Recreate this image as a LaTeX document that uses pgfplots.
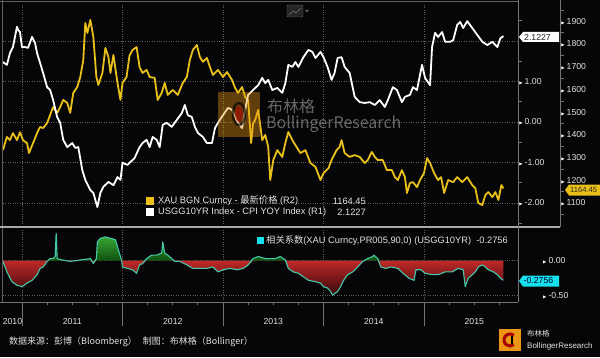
\documentclass[border=0pt]{standalone}
\usepackage{amssymb}
\usepackage{pgfplots}
\pgfplotsset{compat=1.18}
\usepackage{pgfplotstable}
\usepackage{fontspec}
\setmainfont{Liberation Sans}
\newfontfamily\cjk{Noto Sans CJK SC}

\definecolor{bgc}{RGB}{6,6,9}
\definecolor{goldc}{RGB}{232,192,25}
\definecolor{corrc}{RGB}{70,200,170}
\definecolor{gridc}{RGB}{95,95,95}
\definecolor{linec}{RGB}{115,115,115}
\definecolor{sepc}{RGB}{170,170,170}
\definecolor{txtc}{RGB}{225,225,225}
\definecolor{cyanbox}{RGB}{20,225,235}
\definecolor{orangec}{RGB}{235,150,20}
\definecolor{redtop}{RGB}{190,40,40}
\definecolor{redbot}{RGB}{55,8,10}
\definecolor{greentop}{RGB}{60,180,55}
\definecolor{greenbot}{RGB}{15,80,15}
\definecolor{wmc}{RGB}{120,120,120}

\newcommand\lab{\fontsize{8.7}{10}\selectfont}
\newcommand\leg{\fontsize{9.3}{10}\selectfont}

\pgfplotstableread{
t v
2010.81 1.48
2010.85 1.41
2010.88 1.70
2010.91 1.85
2010.95 2.35
2010.96 2.28
2010.98 2.22
2011.00 1.85
2011.03 1.85
2011.06 1.83
2011.10 2.10
2011.13 1.95
2011.15 1.70
2011.18 1.46
2011.21 1.21
2011.25 0.86
2011.28 0.79
2011.31 0.54
2011.35 0.12
2011.38 -0.02
2011.41 -0.44
2011.45 -0.62
2011.50 -0.52
2011.53 -0.64
2011.56 -0.62
2011.60 -1.19
2011.63 -1.43
2011.68 -1.68
2011.71 -1.75
2011.75 -2.10
2011.78 -1.75
2011.81 -1.60
2011.86 -1.48
2011.91 -1.56
2011.95 -1.36
2011.98 -1.43
2012.00 -1.01
2012.05 -1.06
2012.07 -1.01
2012.12 -0.89
2012.17 -0.62
2012.20 -0.52
2012.24 -0.44
2012.27 -0.62
2012.30 -0.37
2012.34 -0.44
2012.37 -0.62
2012.40 -0.07
2012.44 -0.02
2012.49 -0.12
2012.54 0.05
2012.59 0.22
2012.62 0.42
2012.65 0.17
2012.69 0.12
2012.72 -0.12
2012.75 -0.27
2012.80 -0.37
2012.84 -0.52
2012.89 -0.52
2012.92 -0.15
2012.95 -0.02
2013.00 0.17
2013.05 0.35
2013.09 0.30
2013.12 0.12
2013.15 -0.02
2013.19 -0.15
2013.22 0.30
2013.25 0.67
2013.30 0.79
2013.35 0.91
2013.39 1.09
2013.42 0.96
2013.45 1.04
2013.49 0.79
2013.54 0.84
2013.59 0.72
2013.62 0.96
2013.65 1.41
2013.69 1.36
2013.72 1.48
2013.75 1.36
2013.80 1.60
2013.85 1.78
2013.89 1.73
2013.92 1.58
2013.97 1.73
2014.00 1.60
2014.04 1.36
2014.08 1.04
2014.11 1.21
2014.14 1.58
2014.18 1.60
2014.21 1.36
2014.26 1.21
2014.31 0.62
2014.36 0.49
2014.41 0.47
2014.46 0.49
2014.51 0.42
2014.56 0.54
2014.61 0.37
2014.64 0.54
2014.69 0.86
2014.73 0.79
2014.78 0.49
2014.81 0.62
2014.86 0.67
2014.89 0.86
2014.93 0.79
2014.98 1.41
2015.01 1.09
2015.06 0.91
2015.08 1.85
2015.11 2.20
2015.14 2.10
2015.18 2.22
2015.21 1.98
2015.26 1.98
2015.29 2.02
2015.33 2.40
2015.36 2.47
2015.39 2.32
2015.43 2.49
2015.48 2.32
2015.53 2.15
2015.58 1.98
2015.63 1.90
2015.68 1.98
2015.73 1.85
2015.76 2.07
2015.79 2.12
}\realyield

\pgfplotstableread{
t v
2010.81 1333
2010.85 1391
2010.88 1377
2010.91 1408
2010.95 1377
2010.98 1412
2011.01 1377
2011.05 1364
2011.07 1320
2011.11 1364
2011.15 1408
2011.18 1435
2011.21 1430
2011.25 1452
2011.28 1488
2011.31 1523
2011.35 1497
2011.38 1523
2011.41 1554
2011.45 1541
2011.48 1497
2011.51 1585
2011.55 1611
2011.58 1655
2011.61 1730
2011.63 1893
2011.65 1849
2011.68 1906
2011.71 1831
2011.74 1655
2011.76 1620
2011.80 1673
2011.83 1783
2011.86 1743
2011.88 1673
2011.91 1752
2011.95 1629
2011.98 1554
2012.00 1629
2012.04 1655
2012.07 1750
2012.10 1774
2012.14 1787
2012.17 1699
2012.20 1673
2012.24 1686
2012.27 1655
2012.32 1651
2012.35 1554
2012.39 1585
2012.42 1629
2012.45 1576
2012.50 1598
2012.55 1576
2012.60 1629
2012.64 1655
2012.67 1730
2012.70 1774
2012.74 1796
2012.77 1743
2012.80 1722
2012.84 1739
2012.87 1699
2012.90 1664
2012.95 1686
2013.00 1655
2013.04 1677
2013.09 1642
2013.12 1607
2013.15 1585
2013.19 1611
2013.22 1567
2013.25 1554
2013.28 1364
2013.30 1452
2013.32 1466
2013.35 1510
2013.39 1377
2013.42 1400
2013.45 1347
2013.47 1201
2013.50 1289
2013.54 1333
2013.59 1303
2013.62 1364
2013.65 1413
2013.69 1377
2013.72 1355
2013.77 1320
2013.82 1333
2013.87 1276
2013.92 1259
2013.97 1201
2014.00 1232
2014.05 1254
2014.08 1289
2014.13 1333
2014.16 1347
2014.18 1377
2014.21 1320
2014.26 1303
2014.31 1311
2014.36 1303
2014.41 1276
2014.44 1289
2014.48 1325
2014.51 1303
2014.54 1289
2014.59 1289
2014.63 1245
2014.68 1245
2014.71 1214
2014.74 1201
2014.78 1245
2014.81 1214
2014.83 1144
2014.86 1188
2014.89 1192
2014.93 1170
2014.96 1201
2015.00 1232
2015.03 1298
2015.06 1276
2015.10 1232
2015.14 1201
2015.17 1214
2015.20 1144
2015.24 1201
2015.29 1192
2015.33 1214
2015.38 1192
2015.43 1214
2015.48 1179
2015.51 1166
2015.54 1100
2015.58 1091
2015.61 1135
2015.64 1148
2015.68 1126
2015.71 1148
2015.74 1113
2015.77 1179
2015.79 1164
}\gold

\pgfplotstableread{
t v
2010.81 -0.01
2010.85 -0.16
2010.90 -0.30
2010.95 -0.35
2011.00 -0.37
2011.05 -0.32
2011.10 -0.28
2011.15 -0.20
2011.18 -0.11
2011.21 -0.09
2011.25 -0.01
2011.28 0.03
2011.31 0.03
2011.33 0.06
2011.34 0.39
2011.35 0.03
2011.40 0.01
2011.48 -0.01
2011.58 0.01
2011.68 0.03
2011.71 -0.04
2011.74 0.03
2011.75 0.27
2011.78 0.32
2011.83 0.34
2011.88 0.32
2011.93 0.30
2011.96 0.15
2011.99 0.01
2012.00 -0.09
2012.05 -0.11
2012.10 -0.13
2012.14 -0.18
2012.17 -0.06
2012.20 -0.04
2012.24 0.03
2012.29 0.08
2012.34 0.08
2012.39 0.11
2012.40 0.27
2012.42 0.11
2012.45 0.08
2012.49 0.03
2012.52 -0.01
2012.57 -0.01
2012.64 -0.06
2012.70 -0.11
2012.77 -0.11
2012.84 -0.11
2012.90 -0.09
2012.95 -0.16
2013.00 -0.13
2013.07 -0.11
2013.14 -0.13
2013.20 -0.11
2013.25 -0.06
2013.30 0.03
2013.35 0.06
2013.42 0.03
2013.52 0.03
2013.57 0.06
2013.62 0.01
2013.65 -0.11
2013.70 -0.16
2013.75 -0.18
2013.80 -0.23
2013.85 -0.28
2013.92 -0.30
2013.97 -0.32
2014.00 -0.37
2014.04 -0.39
2014.07 -0.44
2014.09 -0.49
2014.14 -0.44
2014.17 -0.37
2014.20 -0.28
2014.24 -0.20
2014.29 -0.16
2014.34 -0.09
2014.39 -0.01
2014.44 0.03
2014.49 0.06
2014.50 0.08
2014.54 0.03
2014.57 -0.09
2014.62 -0.11
2014.67 -0.09
2014.74 -0.11
2014.79 -0.18
2014.85 -0.25
2014.90 -0.28
2014.92 -0.13
2014.97 -0.13
2015.01 -0.18
2015.08 -0.20
2015.14 -0.20
2015.21 -0.16
2015.28 -0.16
2015.34 -0.11
2015.39 -0.13
2015.41 -0.37
2015.44 -0.25
2015.48 -0.20
2015.51 -0.16
2015.54 -0.09
2015.58 -0.06
2015.61 -0.09
2015.64 -0.13
2015.69 -0.16
2015.73 -0.20
2015.76 -0.25
2015.79 -0.28
}\corr

\begin{document}
\begin{tikzpicture}
\useasboundingbox (0pt,0pt) rectangle (600pt,357pt);
\fill[bgc] (0pt,0pt) rectangle (600pt,357pt);

% ---------- top panel, R1 scale: grid and labels ----------
\begin{axis}[
  at={(3pt,131pt)}, anchor=south west, scale only axis,
  width=515pt, height=223pt,
  xmin=2010.811, xmax=2015.935, ymin=-2.568, ymax=2.938,
  axis line style={draw=none},
  xtick={2011,2012,2013,2014,2015}, xticklabels={},
  ytick={-2,-1,0,1}, minor ytick={-2.5,-1.5,-0.5,0.5,1.5,2.5},
  extra y ticks={2}, extra y tick labels={},
  ytick pos=right, yticklabel pos=right,
  tick align=outside, major tick length=0pt, minor tick length=4pt,
  every minor tick/.append style={draw=linec, line width=0.6pt},
  xmajorgrids, ymajorgrids, grid style={gridc, dotted, line width=0.6pt},
  /pgf/number format/assume math mode=true,
  yticklabel={\textcolor{white}{$\scriptscriptstyle\blacktriangleright$}\,\pgfmathprintnumber[fixed,fixed zerofill,precision=2]{\tick}},
  yticklabel style={font=\lab, text=txtc, xshift=-3pt},
]
\addplot[draw=none] coordinates {(2011,0)};
\end{axis}

% ---------- top panel, R2 scale: gold ----------
\begin{axis}[
  at={(3pt,131pt)}, anchor=south west, scale only axis,
  width=557pt, height=223pt,
  xmin=2010.811, xmax=2016.353, ymin=998.7, ymax=1981,
  axis line style={draw=none},
  xtick=\empty,
  ytick={1100,1200,...,1900}, minor ytick={1050,1150,...,1950},
  ytick pos=right, yticklabel pos=right,
  tick align=outside, major tick length=0pt, minor tick length=4pt,
  every minor tick/.append style={draw=linec, line width=0.6pt},
  /pgf/number format/assume math mode=true,
  /pgf/number format/1000 sep={},
  yticklabel={\textcolor{white}{$\scriptscriptstyle\blacktriangleright$}\,\pgfmathprintnumber[fixed,precision=0]{\tick}},
  yticklabel style={font=\lab, text=txtc, xshift=-3pt},
]
\addplot[goldc, line width=1.8pt, line join=round] table[x=t,y=v]{\gold};
\end{axis}

% ---------- top panel, R1 scale: real yield ----------
\begin{axis}[
  at={(3pt,131pt)}, anchor=south west, scale only axis,
  width=515pt, height=223pt,
  xmin=2010.811, xmax=2015.935, ymin=-2.568, ymax=2.938,
  hide axis,
]
\addplot[white, line width=1.8pt, line join=round] table[x=t,y=v]{\realyield};
\end{axis}

% ---------- bottom panel: correlation ----------
\begin{axis}[
  at={(3pt,55pt)}, anchor=south west, scale only axis,
  width=515pt, height=74pt,
  xmin=2010.811, xmax=2015.935, ymin=-0.59, ymax=0.467,
  axis line style={draw=none},
  xtick={2011,2012,2013,2014,2015}, xticklabels={}, xtick pos=bottom,
  minor xtick={2011.25,2011.5,...,2015.75},
  tick align=outside, major tick length=24pt, minor tick length=3pt,
  xtick style={draw=linec, line width=0.8pt},
  ytick={-0.5,0}, ytick pos=right, yticklabel pos=right,
  ytick style={draw=none},
  extra x ticks={2010.811,2011.5,2012.5,2013.5,2014.5,2015.5},
  extra x tick labels={\hspace*{19pt}2010,2011,2012,2013,2014,2015},
  extra x tick style={grid=none, major tick length=0pt, tick style={draw=none},
     xticklabel style={yshift=-13pt}},
  xticklabel style={font=\lab, text=txtc},
  xmajorgrids, ymajorgrids, grid style={gridc, dotted, line width=0.6pt},
  /pgf/number format/assume math mode=true,
  yticklabel={\textcolor{white}{$\scriptscriptstyle\blacktriangleright$}\,\pgfmathprintnumber[fixed,fixed zerofill,precision=2]{\tick}},
  yticklabel style={font=\lab, text=txtc, xshift=-3pt},
]
\addplot[draw=none, top color=redtop, bottom color=redbot, y filter/.expression={min(y,0)}] table[x=t,y=v]{\corr} \closedcycle;
\addplot[draw=none, top color=greentop, bottom color=greenbot, y filter/.expression={max(y,0)}] table[x=t,y=v]{\corr} \closedcycle;
\addplot[corrc, line width=1.1pt, line join=round] table[x=t,y=v]{\corr};
\end{axis}

% ---------- frame lines ----------
\draw[gridc, line width=0.6pt] (0pt,355.5pt) -- (518pt,355.5pt);
\draw[gridc, line width=0.6pt] (2.5pt,55pt) -- (2.5pt,357pt);
\draw[sepc, line width=2pt] (0pt,130pt) -- (560pt,130pt);
\draw[linec, line width=0.8pt] (0pt,55pt) -- (518pt,55pt);
\draw[linec, line width=0.8pt] (518pt,55pt) -- (518pt,357pt);
\draw[linec, line width=0.8pt] (560pt,130pt) -- (560pt,357pt);

% ---------- watermark ----------
\fill[orangec, opacity=0.4] (218pt,220pt) rectangle (260pt,265pt);
\draw[black, line width=2.5pt, opacity=0.65] (239pt,243pt) ellipse (6pt and 11pt);
\fill[red!70!black, opacity=0.55] (239pt,243pt) ellipse (4pt and 8pt);
\node[anchor=west, inner sep=0pt, text=wmc, opacity=0.85, font=\cjk\fontsize{16}{16}\selectfont] at (267pt,251pt) {布林格};
\node[anchor=west, inner sep=0pt, text=wmc, opacity=0.85, font=\cjk\fontsize{16}{16}\selectfont] at (266pt,233pt) {BollingerResearch};

% small toolbar icon
\draw[gridc, fill=black!85, rounded corners=1pt] (287pt,340pt) rectangle (303pt,352pt);
\draw[linec, line width=0.6pt] (289pt,342pt) -- (293pt,346pt) -- (296pt,344pt) -- (301pt,349pt);
\fill[gridc] (305pt,347pt) -- (309pt,347pt) -- (307pt,344.5pt) -- cycle;

% ---------- top legend ----------
\fill[goldc] (146pt,152pt) rectangle (154pt,160pt);
\fill[white] (146pt,141pt) rectangle (154pt,149pt);
\node[anchor=west, inner sep=0pt, text=txtc, font=\leg] at (158pt,156pt) {XAU BGN Curncy - {\cjk 最新价格} (R2)};
\node[anchor=west, inner sep=0pt, text=txtc, font=\leg] at (158pt,145pt) {USGG10YR Index - CPI YOY Index (R1)};
\node[anchor=east, inner sep=0pt, text=txtc, font=\leg] at (366pt,156pt) {1164.45};
\node[anchor=east, inner sep=0pt, text=txtc, font=\leg] at (366pt,145pt) {2.1227};

% ---------- bottom legend ----------
\fill[cyanbox] (257pt,113pt) rectangle (263.5pt,120pt);
\node[anchor=west, inner sep=0pt, text=txtc, font=\leg] at (266pt,116.5pt) {{\cjk 相关系数}(XAU Curncy,PR005,90,0) (USGG10YR)};
\node[anchor=east, inner sep=0pt, text=txtc, font=\leg] at (508pt,116.5pt) {-0.2756};

% ---------- last-value boxes ----------
\fill[white] (519pt,320pt) -- (523pt,325pt) -- (559pt,325pt) -- (559pt,315pt) -- (523pt,315pt) -- cycle;
\node[anchor=west, inner sep=0pt, text=black!85, font=\lab] at (524pt,320pt) {2.1227};
\fill[goldc] (565pt,167pt) -- (569pt,172.5pt) -- (600pt,172.5pt) -- (600pt,161.5pt) -- (569pt,161.5pt) -- cycle;
\node[anchor=west, inner sep=0pt, text=black!85, font=\fontsize{7.6}{9}\selectfont] at (570pt,167pt) {1164.45};
\fill[cyanbox] (519pt,76pt) -- (523pt,81.5pt) -- (559pt,81.5pt) -- (559pt,70.5pt) -- (523pt,70.5pt) -- cycle;
\node[anchor=west, inner sep=0pt, text=black!80!blue, font=\lab] at (523.5pt,76pt) {-0.2756};

% ---------- footer ----------
\node[anchor=west, inner sep=0pt, text=txtc, font=\cjk\fontsize{9}{10}\selectfont] at (9pt,15pt) {数据来源：彭博（Bloomberg）\hspace{6pt}制图：布林格（Bollinger）};
\fill[orangec] (499pt,6pt) rectangle (521pt,28pt);
\draw[red!65!black, line width=3pt] ([shift={(50:6pt)}]510pt,17pt) arc (50:310:6pt);
\fill[black] (511pt,13pt) rectangle (513pt,21pt);
\node[anchor=west, inner sep=0pt, text=txtc, font=\cjk\fontsize{7.5}{8}\selectfont] at (527pt,23pt) {布林格};
\node[anchor=west, inner sep=0pt, text=txtc, font=\fontsize{8}{9}\selectfont] at (527pt,11pt) {BollingerResearch};
\end{tikzpicture}
\end{document}
